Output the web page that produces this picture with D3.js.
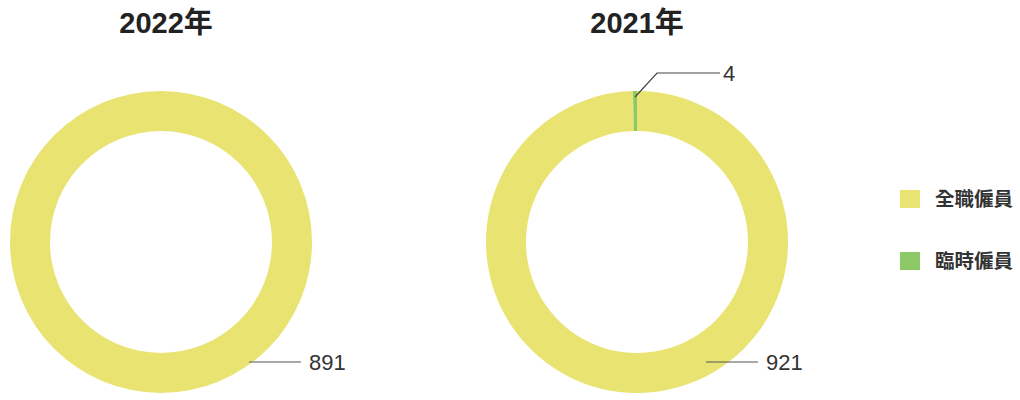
<!DOCTYPE html>
<html>
<head>
<meta charset="utf-8">
<script src="https://cdn.jsdelivr.net/npm/d3@7/dist/d3.min.js"></script>
<style>
  body { margin: 0; background: #fff; }
  svg { display: block; }
</style>
</head>
<body>
<div id="chart"></div>
<script>
const w = 1020;
const h = 400;
const years = ["2022年", "2021年"];
const categories = ["全職僱員", "臨時僱員"];
const fullTime = [891, 921];
const temporary = [0, 4];
const colors = ["#e9e372", "#8cc866"];

const outerR = 151;
const innerR = 111;
const centersX = [161, 637];
const cy = 242;
// where the long label line sits for the big slice, per chart
const bigLabelX = [88, 69];

const svg = d3.select("#chart").append("svg").attr("width", w).attr("height", h);

const pie = d3.pie().sort(null).value((d) => d.value);
const arc = d3.arc().innerRadius(innerR).outerRadius(outerR);
const color = d3.scaleOrdinal().domain(categories).range(colors);

years.forEach((year, i) => {
  const data = [
    { cat: categories[0], value: fullTime[i] },
    { cat: categories[1], value: temporary[i] },
  ];
  const g = svg.append("g").attr("transform", "translate(" + centersX[i] + "," + cy + ")");

  g.append("text")
    .attr("x", i === 0 ? 5 : 0)
    .attr("y", -cy + 33)
    .attr("text-anchor", "middle")
    .style("font-family", "'Liberation Sans', 'Noto Sans CJK TC', sans-serif")
    .style("font-weight", "bold")
    .style("font-size", "29px")
    .style("fill", "#222")
    .text(year);

  const arcs = pie(data).filter((d) => d.data.value > 0);

  g.selectAll("path")
    .data(arcs)
    .enter()
    .append("path")
    .attr("d", arc)
    .attr("fill", (d) => color(d.data.cat));

  arcs.forEach((d) => {
    const share = (d.endAngle - d.startAngle) / (2 * Math.PI);
    if (share > 0.5) {
      const x0 = bigLabelX[i];
      const y0 = 120;
      g.append("line")
        .attr("x1", x0).attr("y1", y0)
        .attr("x2", x0 + 52).attr("y2", y0)
        .attr("stroke", "#555").attr("stroke-width", 1.2);
      g.append("text")
        .attr("x", x0 + 60)
        .attr("y", y0)
        .attr("dy", "0.35em")
        .style("font-family", "'Liberation Sans', sans-serif")
        .style("font-size", "22px")
        .style("fill", "#333")
        .text(d.data.value);
    } else {
      const mid = (d.startAngle + d.endAngle) / 2;
      const r1 = 145;
      const x1 = r1 * Math.sin(mid);
      const y1 = -r1 * Math.cos(mid);
      const x2 = x1 + 22;
      const y2 = -169;
      const x3 = x2 + 63;
      g.append("polyline")
        .attr("points", [[x1, y1], [x2, y2], [x3, y2]].map((p) => p.join(",")).join(" "))
        .attr("fill", "none")
        .attr("stroke", "#444").attr("stroke-width", 1.2);
      g.append("text")
        .attr("x", x3 + 3)
        .attr("y", y2)
        .attr("dy", "0.35em")
        .style("font-family", "'Liberation Sans', sans-serif")
        .style("font-size", "22px")
        .style("fill", "#333")
        .text(d.data.value);
    }
  });
});

const legend = svg.append("g").attr("transform", "translate(900,0)");
const ly = d3.scalePoint().domain(categories).range([199, 261]);
legend.selectAll("rect")
  .data(categories)
  .enter()
  .append("rect")
  .attr("x", 0)
  .attr("y", (d) => ly(d) - 9)
  .attr("width", 20)
  .attr("height", 18)
  .attr("fill", (d) => color(d));
legend.selectAll("text")
  .data(categories)
  .enter()
  .append("text")
  .attr("x", 35)
  .attr("y", (d) => ly(d))
  .attr("dy", "0.35em")
  .style("font-family", "'Noto Sans CJK TC', sans-serif")
  .style("font-weight", "bold")
  .style("font-size", "19.5px")
  .style("fill", "#333")
  .text((d) => d);
</script>
</body>
</html>
